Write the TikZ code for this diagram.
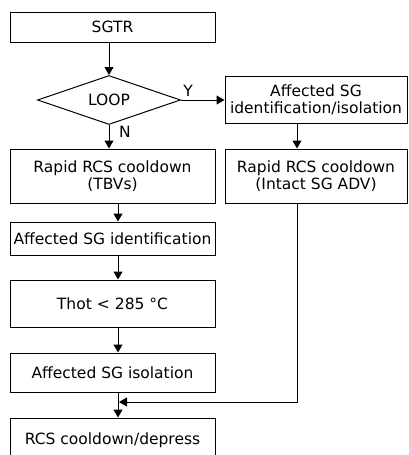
\documentclass[tikz,border=0pt]{standalone}
\usepackage{fontspec}
\setmainfont{DejaVu Sans}
\usetikzlibrary{shapes.geometric,arrows.meta}

\tikzset{
  stepbox/.style={draw, line width=1pt, inner sep=0pt, align=center,
    font=\fontsize{15.5}{17}\selectfont},
  leftbox/.style={stepbox, minimum width=205pt},
  rightbox/.style={stepbox, minimum width=182pt},
  decision/.style={draw, line width=1pt, shape=diamond, inner sep=0pt,
    minimum width=143pt, minimum height=49pt, aspect=2.9,
    font=\fontsize{15.5}{17}\selectfont},
  flow/.style={line width=1pt, -{Triangle[length=8pt,width=9pt]}},
  tag/.style={font=\fontsize{15.5}{17}\selectfont, inner sep=0pt},
}

\begin{document}
\begin{tikzpicture}[x=1pt, y=-1pt]
  \useasboundingbox (0,0) rectangle (409,455);
  \clip (0,0) rectangle (409,455);

  % main column
  \node[leftbox, minimum height=30pt] (sgtr) at (112.5,27) {SGTR};
  \node[decision] (loop) at (109,100) {LOOP};
  \node[leftbox, minimum height=54pt] (rapid1) at (112.5,176) {Rapid RCS cooldown\\(TBVs)};
  \node[leftbox, minimum height=33pt] (ident) at (112.5,238.5) {Affected SG identification};
  \node[leftbox, minimum height=47pt] (thot) at (112.5,303.5) {Thot <\,\,285 °C};
  \node[leftbox, minimum height=39pt] (iso) at (112.5,372.5) {Affected SG isolation};
  \node[leftbox, minimum height=44pt] (final) at (112.5,440) {RCS cooldown/depress};

  % branch column
  \node[rightbox, minimum height=47pt] (affid) at (316,99.5) {Affected SG\\identification/isolation};
  \node[rightbox, minimum height=54pt] (rapid2) at (316,176) {Rapid RCS cooldown\\(Intact SG ADV)};

  % connector lanes
  \coordinate (cx) at (118,0);
  \coordinate (rx) at (297,0);
  \coordinate (mj) at (118,402);

  % connectors
  \draw[flow] (loop.north |- sgtr.south) -- (loop.north);
  \draw[flow] (loop.south) -- (loop.south |- rapid1.north);
  \draw[flow] (loop.east) -- (loop.east -| affid.west);
  \draw[flow] (rapid1.south -| cx) -- (ident.north -| cx);
  \draw[flow] (ident.south -| cx) -- (thot.north -| cx);
  \draw[flow] (thot.south -| cx) -- (iso.north -| cx);
  \draw[flow] (iso.south -| cx) -- (final.north -| cx);
  \draw[flow] (affid.south -| rx) -- (rapid2.north -| rx);
  \draw[flow, shorten >=1pt] (rapid2.south -| rx) |- (mj);

  % branch labels
  \node[tag] (yes) at (188,91) {Y};
  \node[tag] (no) at (125,132) {N};
\end{tikzpicture}
\end{document}
